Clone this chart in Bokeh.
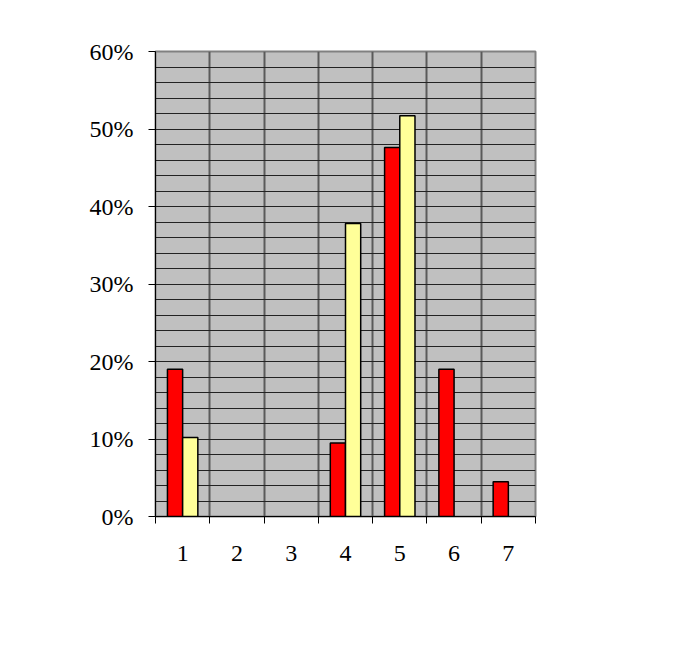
from bokeh.plotting import figure
from bokeh.models import (FixedTicker, NumeralTickFormatter, Legend, LegendItem,
                          Label, BoxAnnotation, ColumnDataSource)
from bokeh.embed import file_html
from bokeh.resources import INLINE

categories = ["1", "2", "3", "4", "5", "6", "7"]
serie1 = [0.19, 0.0, 0.0, 0.095, 0.476, 0.19, 0.045]
serie2 = [0.102, 0.0, 0.0, 0.378, 0.517, 0.0, 0.0]
series_names = ["Serie1", "Serie2"]
y_ticks = [0.0, 0.1, 0.2, 0.3, 0.4, 0.5, 0.6]
y_minor = [i / 50 for i in range(31)]
footer1 = "Serie1. Skålar"
footer2 = "Serie2. Bägare, Pokaler & Glas"

FONT = "Liberation Serif"
BAR_W = 0.28

def src(vals, off):
    xs, tops = [], []
    for i, v in enumerate(vals):
        if v > 0:
            xs.append(i + 1 + off)
            tops.append(v)
    return ColumnDataSource(dict(x=xs, top=tops))

p = figure(width=666, height=645, x_range=(0.5, 7.5), y_range=(0, 0.6),
           output_backend="svg", toolbar_location=None,
           min_border_left=155, min_border_right=131,
           min_border_top=51, min_border_bottom=129)
p.background_fill_color = "#C0C0C0"
p.border_fill_color = "white"
p.outline_line_color = "#808080"
p.outline_line_width = 2

r1 = p.vbar(x="x", top="top", width=BAR_W, bottom=0, source=src(serie1, -BAR_W / 2),
            fill_color="#FF0000", line_color="black", line_width=1.5)
r2 = p.vbar(x="x", top="top", width=BAR_W, bottom=0, source=src(serie2, BAR_W / 2),
            fill_color="#FFFF99", line_color="black", line_width=1.5)

xt = FixedTicker(ticks=[i + 1 for i in range(len(categories))],
                 minor_ticks=[i + 0.5 for i in range(len(categories) + 1)])
p.xaxis.ticker = xt
p.xaxis.major_label_overrides = {i + 1: c for i, c in enumerate(categories)}
p.xaxis.major_tick_out = 0
p.xaxis.major_tick_in = 0
p.xaxis.minor_tick_out = 7
p.xaxis.minor_tick_in = 0
p.xaxis.minor_tick_line_color = "black"
p.xaxis.axis_line_color = "black"
p.xaxis.major_label_standoff = 22
p.xaxis.major_label_text_font = FONT
p.xaxis.major_label_text_font_size = "24px"
p.xaxis.major_label_text_color = "black"

p.yaxis.ticker = FixedTicker(ticks=y_ticks, minor_ticks=y_minor)
p.yaxis.formatter = NumeralTickFormatter(format="0%")
p.yaxis.major_tick_out = 7
p.yaxis.major_tick_in = 0
p.yaxis.minor_tick_out = 0
p.yaxis.minor_tick_in = 0
p.yaxis.major_tick_line_color = "black"
p.yaxis.axis_line_color = "black"
p.yaxis.major_label_standoff = 15
p.yaxis.major_label_text_font = FONT
p.yaxis.major_label_text_font_size = "24px"
p.yaxis.major_label_text_color = "black"

p.xgrid.grid_line_color = None
p.xgrid.minor_grid_line_color = "#5a5a5a"
p.xgrid.minor_grid_line_width = 2
p.ygrid.grid_line_color = "#222222"
p.ygrid.grid_line_width = 1.2
p.ygrid.minor_grid_line_color = "#222222"
p.ygrid.minor_grid_line_width = 1.2

legend = Legend(items=[LegendItem(label=series_names[0], renderers=[r1]),
                       LegendItem(label=series_names[1], renderers=[r2])],
                location=(402, 196), orientation="vertical",
                glyph_width=20, glyph_height=20, label_height=40, label_width=90,
                padding=10, spacing=11, margin=0, label_standoff=10,
                border_line_color="black", border_line_width=1,
                background_fill_color="white", background_fill_alpha=1,
                label_text_font=FONT, label_text_font_size="22px",
                label_text_color="black")
p.add_layout(legend)

frame_box = BoxAnnotation(left=3, right=720, top=5, bottom=615,
                          left_units="canvas", right_units="canvas",
                          top_units="canvas", bottom_units="canvas",
                          fill_alpha=0, line_color="black", line_width=1.5,
                          level="underlay")
p.add_layout(frame_box)

for txt, x in ((footer1, 4), (footer2, 280)):
    p.add_layout(Label(x=x, y=642, x_units="canvas", y_units="canvas", text=txt,
                       text_font=FONT, text_font_size="22px", text_color="black",
                       text_baseline="alphabetic"))

open("out.html", "w").write(file_html(p, INLINE))
